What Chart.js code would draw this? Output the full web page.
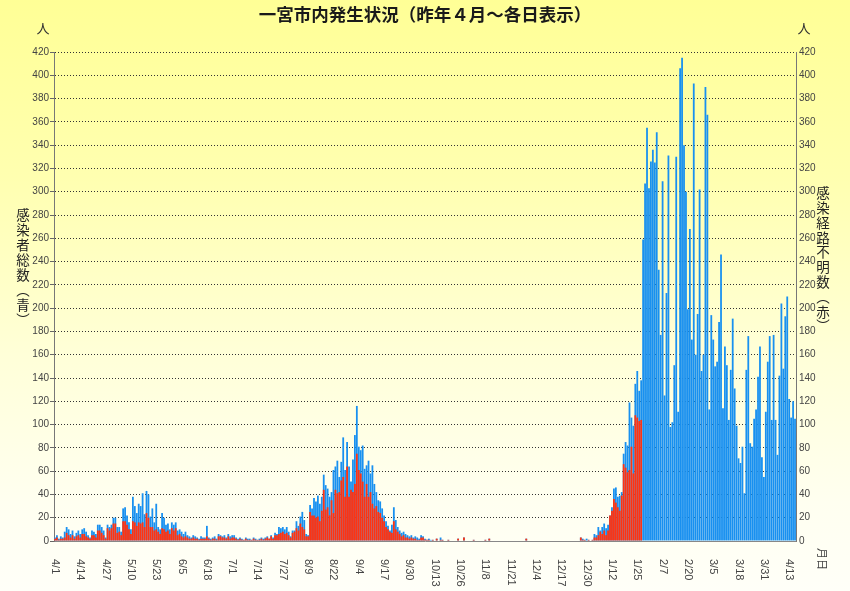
<!DOCTYPE html>
<html lang="ja">
<head>
<meta charset="utf-8">
<title>一宮市内発生状況</title>
<script src="https://cdn.jsdelivr.net/npm/chart.js@4.4.1/dist/chart.umd.min.js"></script>
<style>
  html, body { margin: 0; padding: 0; }
  body {
    width: 850px; height: 591px; overflow: hidden;
    background: linear-gradient(to bottom, #ffff96 0%, #ffffb0 30%, #ffffd8 60%, #fffff0 85%, #fffff8 100%);
  }
</style>
</head>
<body>
<canvas id="myChart" width="850" height="591"></canvas>
<script>
// 感染者総数（青）: daily totals from 2021/4/1
const totalCases = [
  3,5,2,4,3,8,12,10,6,9,
  4,7,9,6,10,11,8,5,3,9,
  8,6,14,14,12,9,3,14,12,14,
  20,20,12,12,8,28,29,22,16,10,
  38,30,24,32,30,41,23,43,40,21,
  28,16,32,12,10,24,20,14,15,10,
  16,14,16,9,10,8,6,8,5,4,
  3,5,4,3,2,4,3,3,13,3,
  2,3,4,2,6,5,4,5,3,6,
  4,5,5,3,2,3,2,1,3,2,
  2,1,3,2,1,2,3,2,3,4,
  2,5,3,7,6,12,11,12,10,12,
  8,4,9,9,17,13,21,25,18,6,
  5,31,28,37,34,39,32,38,57,48,
  45,38,42,61,64,69,55,68,89,61,
  85,64,51,70,91,116,81,78,82,62,
  65,69,58,65,49,42,35,34,28,22,
  17,13,9,14,29,18,12,9,7,8,
  6,5,4,5,3,4,3,2,5,4,
  2,1,2,1,1,0,2,0,3,1,
  0,0,1,0,0,0,0,2,0,0,
  3,0,0,0,0,1,0,0,0,0,
  0,1,0,2,0,0,0,0,0,0,
  0,0,0,0,0,0,0,0,0,0,
  0,0,2,0,0,0,0,0,0,0,
  0,0,0,0,0,0,0,0,0,0,
  0,0,0,0,0,0,0,0,0,0,
  3,2,1,2,1,0,1,6,5,12,
  9,12,15,11,14,22,29,45,46,38,
  39,42,75,85,82,119,106,99,135,146,
  129,138,259,307,355,303,326,336,325,351,
  233,177,309,125,213,331,98,102,151,330,
  111,406,415,340,300,199,268,173,393,160,
  195,302,146,160,390,366,113,194,173,150,
  154,188,246,114,167,151,104,147,191,131,
  99,71,67,81,41,147,176,84,81,105,
  113,141,167,72,55,111,154,176,104,177,
  104,74,142,204,148,193,210,122,106,120,
  105
];

// 感染経路不明数（赤）: only reported up to late January
const unknownCases = [
  2,3,1,2,2,3,7,5,3,5,
  2,4,5,3,6,6,4,3,2,5,
  5,3,9,9,7,5,2,11,9,11,
  15,15,7,8,5,17,17,14,10,6,
  17,16,13,16,15,16,12,24,20,12,
  12,9,10,8,6,11,10,8,9,6,
  11,9,11,5,6,4,3,4,3,2,
  2,3,2,2,1,2,2,2,4,2,
  1,2,2,1,4,4,3,3,2,4,
  2,3,3,2,1,2,1,1,2,1,
  1,1,2,1,1,1,2,1,2,3,
  2,4,2,5,5,6,7,8,6,7,
  5,3,7,8,11,9,15,12,10,4,
  4,25,22,22,20,21,17,26,44,27,
  29,22,35,24,44,41,42,52,55,38,
  64,38,44,42,49,75,61,58,51,38,
  49,38,42,32,28,30,25,24,20,17,
  12,10,8,7,17,10,8,6,4,5,
  3,3,2,3,2,2,1,1,3,3,
  1,1,1,0,1,0,2,0,1,1,
  0,0,1,0,0,0,0,2,0,0,
  3,0,0,0,0,1,0,0,0,0,
  0,1,0,2,0,0,0,0,0,0,
  0,0,0,0,0,0,0,0,0,0,
  0,0,2,0,0,0,0,0,0,0,
  0,0,0,0,0,0,0,0,0,0,
  0,0,0,0,0,0,0,0,0,0,
  3,1,1,0,1,0,1,3,3,5,
  8,6,9,5,9,22,26,36,33,29,
  26,39,66,63,59,61,81,58,108,106,
  103,104
];

const tickLabels = ['4/1','4/14','4/27','5/10','5/23','6/5','6/18','7/1','7/14','7/27',
  '8/9','8/22','9/4','9/17','9/30','10/13','10/26','11/8','11/21','12/4',
  '12/17','12/30','1/12','1/25','2/7','2/20','3/5','3/18','3/31','4/13'];

const leftTitle = ['感','染','者','総','数','︵','青','︶'];
const rightTitle = ['感','染','経','路','不','明','数','︵','赤','︶'];

// one category per day
let dates = [];
let d = new Date(2021, 3, 1);
for (let i = 0; i < totalCases.length; i++) {
  dates.push((d.getMonth() + 1) + '/' + d.getDate());
  d.setDate(d.getDate() + 1);
}

const jp = '"Noto Sans CJK JP", sans-serif';
const tickFont = '"Liberation Sans Narrow", "Liberation Sans", sans-serif';

const extraText = {
  id: 'extraText',
  afterDraw(chart) {
    const ctx = chart.ctx;
    const xs = chart.scales.x;
    ctx.save();
    ctx.fillStyle = '#333';
    ctx.textAlign = 'center';
    ctx.textBaseline = 'middle';
    ctx.font = '13px ' + jp;
    ctx.fillText('人', 43, 28);
    ctx.fillText('人', 804, 28);

    ctx.fillStyle = '#222';
    ctx.font = '13.5px ' + jp;
    leftTitle.forEach((ch, k) => ctx.fillText(ch, 23, 215 + k * 15));
    rightTitle.forEach((ch, k) => ctx.fillText(ch, 823, 193 + k * 14.8));

    // date labels, rotated clockwise
    ctx.fillStyle = '#444';
    ctx.font = '11px ' + tickFont;
    ctx.textAlign = 'left';
    let from = 0;
    tickLabels.forEach(lab => {
      const idx = dates.indexOf(lab, from);
      if (idx < 0) return;
      from = idx + 1;
      ctx.save();
      ctx.translate(xs.getPixelForValue(idx), 559);
      ctx.rotate(Math.PI / 2);
      ctx.fillText(lab, 0, 0);
      ctx.restore();
    });
    ctx.save();
    ctx.font = '11px ' + jp;
    ctx.translate(822, 548);
    ctx.rotate(Math.PI / 2);
    ctx.fillText('月日', 0, 0);
    ctx.restore();
    ctx.restore();
  }
};

let myChart = new Chart(document.getElementById('myChart'), {
  type: 'bar',
  data: {
    labels: dates,
    datasets: [{
      label: '感染経路不明数',
      data: unknownCases,
      backgroundColor: '#ff3311',
      yAxisID: 'y2',
      order: 0,
      grouped: false,
      barPercentage: 0.92,
      categoryPercentage: 1
    }, {
      label: '感染者総数',
      data: totalCases,
      backgroundColor: '#1890f0',
      yAxisID: 'y',
      order: 1,
      grouped: false,
      barPercentage: 0.92,
      categoryPercentage: 1
    }]
  },
  options: {
    responsive: false,
    animation: false,
    layout: { padding: 0 },
    plugins: {
      legend: { display: false },
      tooltip: { enabled: false },
      title: {
        display: true,
        text: '一宮市内発生状況（昨年４月～各日表示）',
        color: '#1a1a1a',
        font: { family: jp, size: 17.5, weight: 'bold' },
        padding: { top: 4, bottom: 27 }
      }
    },
    scales: {
      x: {
        ticks: { display: false },
        grid: { display: false, drawTicks: false },
        border: { display: true, color: '#888' },
        afterFit: scale => { scale.height = 50; }
      },
      y: {
        position: 'left',
        min: 0, max: 420,
        ticks: { stepSize: 20, color: '#444', padding: 1, font: { family: tickFont, size: 10 } },
        grid: { color: '#333', tickColor: '#666', tickLength: 4, tickBorderDash: [] },
        border: { display: true, color: '#777', dash: [1, 2] },
        afterFit: scale => { scale.width = 54; }
      },
      y2: {
        position: 'right',
        min: 0, max: 420,
        ticks: { stepSize: 20, color: '#444', padding: 3, font: { family: tickFont, size: 10 } },
        grid: { drawOnChartArea: false, drawTicks: false },
        border: { display: true, color: '#777' },
        afterFit: scale => { scale.width = 54; }
      }
    }
  },
  plugins: [extraText]
});
</script>
</body>
</html>
